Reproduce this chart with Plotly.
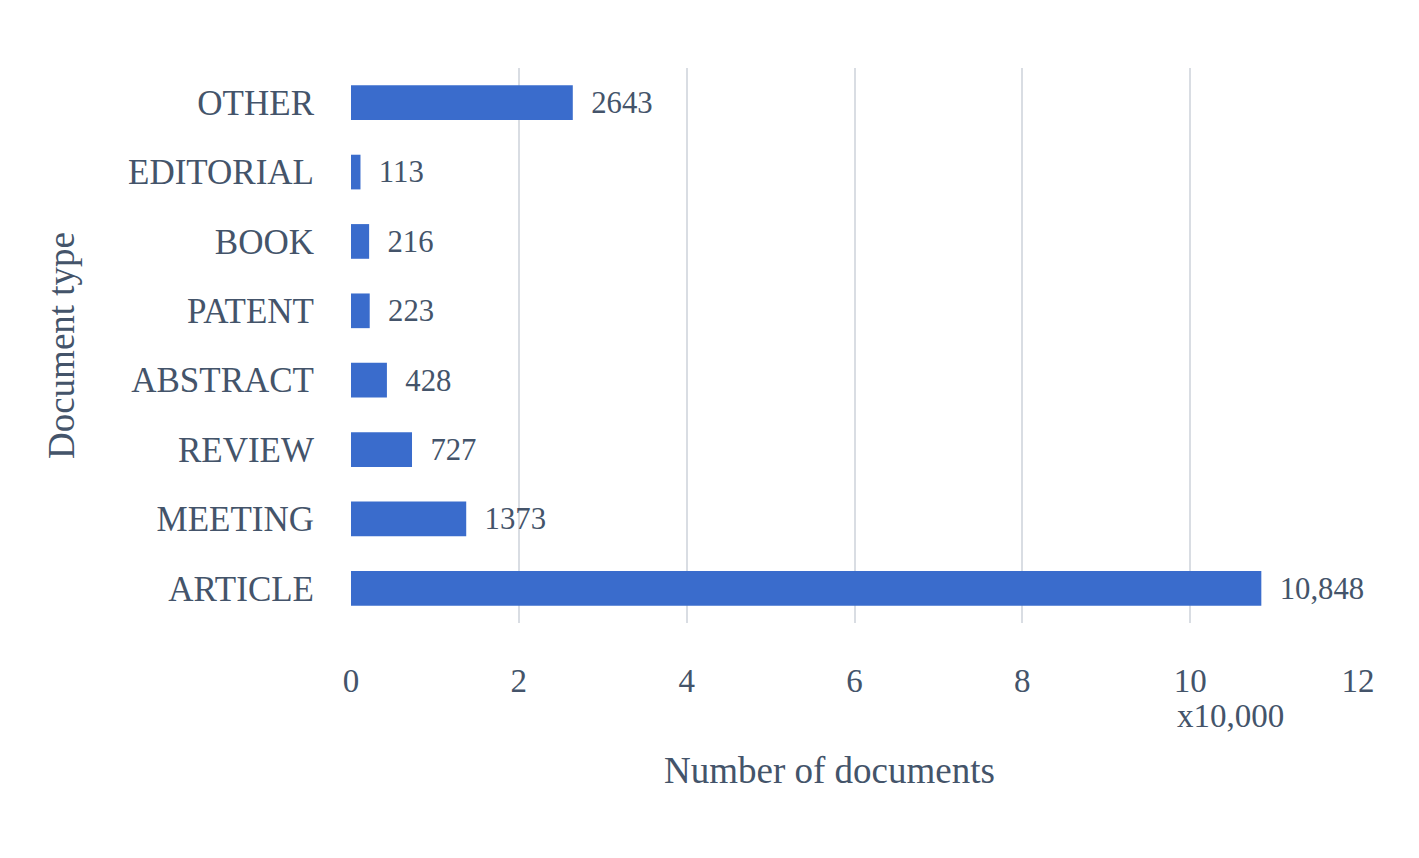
import plotly.graph_objects as go

categories = ["ARTICLE", "MEETING", "REVIEW", "ABSTRACT", "PATENT", "BOOK", "EDITORIAL", "OTHER"]
values = [10848, 1373, 727, 428, 223, 216, 113, 2643]
labels = ["10,848", "1373", "727", "428", "223", "216", "113", "2643"]
tickvals = [0, 2, 4, 6, 8, 10, 12]

font = "Liberation Serif"
col = "#44546a"

fig = go.Figure(go.Bar(
    y=categories, x=[v / 1000 for v in values], orientation="h",
    text=["  " + t for t in labels], textposition="outside", cliponaxis=False,
    textfont=dict(family=font, size=31, color=col),
    marker=dict(color="#3a6ccc", line=dict(width=0)), width=0.5,
))
fig.update_layout(
    width=1419, height=858, plot_bgcolor="white", paper_bgcolor="white",
    margin=dict(l=343, r=69, t=60, b=243, autoexpand=False), showlegend=False,
    font=dict(family=font, color=col),
)
fig.update_xaxes(range=[0, 12], tickvals=tickvals, showgrid=True, gridcolor="#d9dde3",
                 gridwidth=1.5, zeroline=False, tickfont=dict(size=33, color=col),
                 ticklabelstandoff=35, showline=False, automargin=False)
fig.update_yaxes(tickfont=dict(size=35, color=col), ticklabelstandoff=36, automargin=False,
                 title=dict(text="Document type", font=dict(size=37, color=col), standoff=42))
fig.add_annotation(text="x10,000", x=(1278 - 343) / 1007, y=(615 - 728) / 555, xref="x domain",
                   yref="y domain", showarrow=False, font=dict(size=33, color=col))
fig.add_annotation(text="Number of documents", x=(821 - 343) / 1007, y=(615 - 785) / 555,
                   xref="x domain", yref="y domain", showarrow=False, font=dict(size=37, color=col))
fig.write_html("out.html")
